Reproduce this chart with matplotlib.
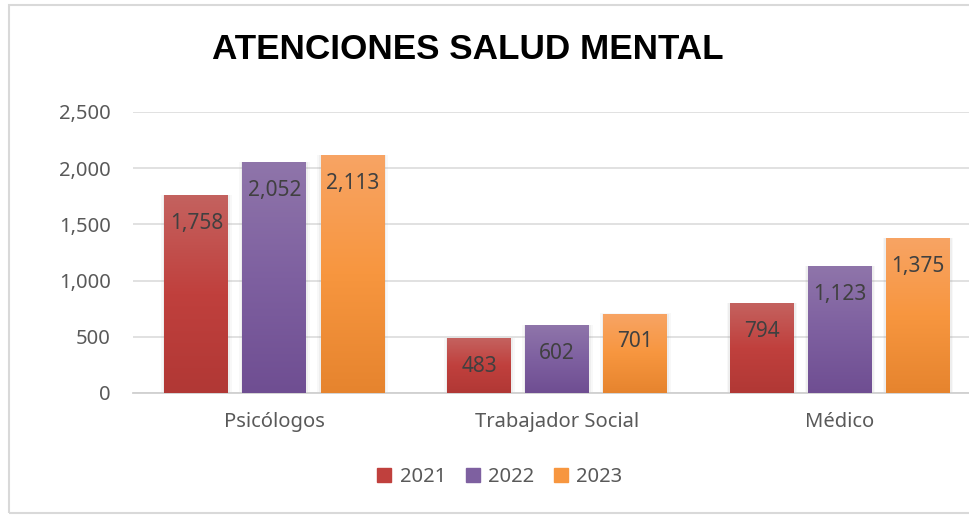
import numpy as np
import matplotlib.pyplot as plt
from matplotlib.colors import LinearSegmentedColormap
from matplotlib.patches import Rectangle
from matplotlib.ticker import FuncFormatter

categorias = ['Psicólogos', 'Trabajador Social', 'Médico']
anios = ['2021', '2022', '2023']
v2021 = [1758, 483, 794]
v2022 = [2052, 602, 1123]
v2023 = [2113, 701, 1375]
series = [v2021, v2022, v2023]

# top, middle, bottom colours of each series gradient
colores = [['#C4625F', '#C0403D', '#B13835'],
           ['#8F75AA', '#7E60A0', '#6F4E92'],
           ['#F8A464', '#F7963F', '#E6842E']]

plt.rcParams['font.family'] = ['Noto Sans', 'DejaVu Sans']

fig = plt.figure(figsize=(9.69, 5.17), dpi=100)
ax = fig.add_axes([133/969, 1-393/517, 1-133/969, (393-112)/517])

ancho = 0.226
paso = 0.276
x = np.arange(len(categorias))
grad = np.linspace(0, 1, 256).reshape(-1, 1)

handles = []
for i, (serie, cols) in enumerate(zip(series, colores)):
    cmap = LinearSegmentedColormap.from_list('g%d' % i, cols)
    bars = ax.bar(x + (i - 1) * paso, serie, ancho, color='none', zorder=3)
    for b, v in zip(bars, serie):
        x0, w = b.get_x(), b.get_width()
        # soft shadow
        for k, a in [(0.012, 0.05), (0.006, 0.08)]:
            ax.add_patch(Rectangle((x0 - k, 0), w + 2 * k, v + k * 600, color='#808080',
                                   alpha=a, lw=0, zorder=2))
        ax.imshow(grad, cmap=cmap, extent=[x0, x0 + w, 0, v], aspect='auto',
                  origin='upper', zorder=3)
        ax.annotate('{:,}'.format(v), (x0 + w / 2, v), xytext=(0, -20),
                    textcoords='offset points', ha='center', va='center',
                    fontsize=15, color='#404040', zorder=4)
    handles.append(Rectangle((0, 0), 1, 1, color=cols[1]))

ax.set_xlim(-0.5, 2.456)
ax.set_ylim(0, 2500)
ax.set_yticks(range(0, 2501, 500))
ax.yaxis.set_major_formatter(FuncFormatter(lambda v, p: '{:,}'.format(int(v))))
ax.set_xticks(x)
ax.set_xticklabels(categorias)
ax.tick_params(axis='y', length=0, pad=16, labelsize=14.5, labelcolor='#595959')
ax.tick_params(axis='x', length=0, pad=14, labelsize=14.5, labelcolor='#595959')
ax.grid(axis='y', color='#D9D9D9', lw=1.1, zorder=0)
ax.set_axisbelow(True)
for s in ['top', 'right', 'left']:
    ax.spines[s].set_visible(False)
ax.spines['bottom'].set_color('#D0D0D0')
ax.spines['bottom'].set_linewidth(1.3)

fig.text(468/969, 1-50/517, 'ATENCIONES SALUD MENTAL', ha='center', va='center',
         fontsize=25.3, fontweight='bold', color='black',
         family=['Liberation Sans', 'DejaVu Sans'])

fig.legend(handles, anios, loc='center', bbox_to_anchor=(500/969, 1-477/517), ncol=3,
           frameon=False, fontsize=14.5, labelcolor='#595959', handlelength=0.7,
           handleheight=0.7, handletextpad=0.4, columnspacing=1.0)

fig.patches.append(Rectangle((9/969, 1-513/517), 1.0, (513-5)/517, transform=fig.transFigure,
                             fill=False, edgecolor='#D9D9D9', lw=1.5))

fig.savefig('out.png', dpi=100)
